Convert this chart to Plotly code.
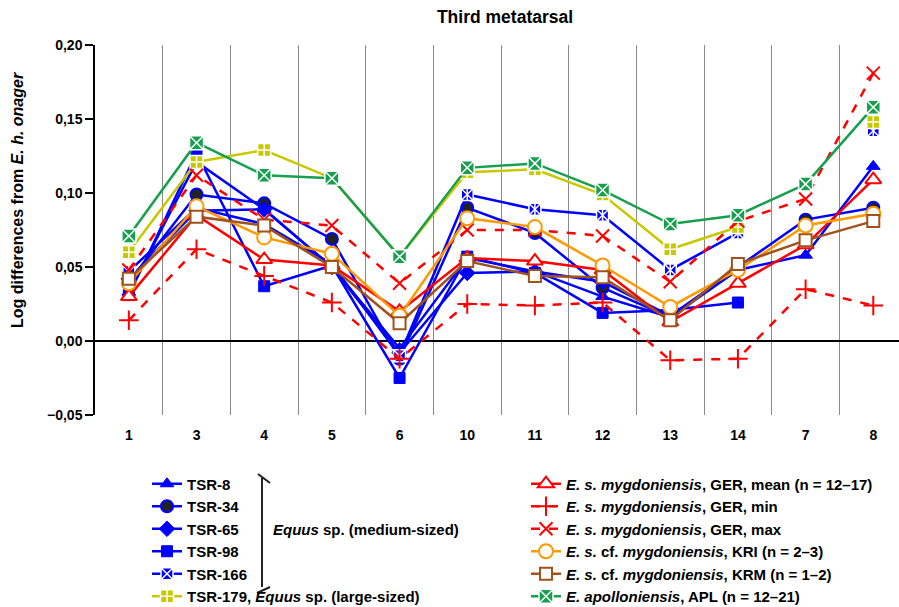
import plotly.graph_objects as go

categories = ['1', '3', '4', '5', '6', '10', '11', '12', '13', '14', '7', '8']

tsr8   = [0.033, 0.121, 0.089, 0.050, -0.005, 0.056, 0.047, 0.030, 0.016, 0.048, 0.058, 0.118]
tsr34  = [0.040, 0.099, 0.093, 0.069, -0.012, 0.090, 0.073, 0.036, 0.016, 0.050, 0.082, 0.090]
tsr65  = [0.042, 0.088, 0.089, 0.050, -0.008, 0.046, 0.047, 0.040, 0.017, 0.049, None, None]
tsr98  = [0.031, 0.127, 0.037, 0.051, -0.025, 0.057, 0.046, 0.019, 0.021, 0.026, None, None]
tsr166 = [0.047, 0.090, 0.079, 0.052, -0.010, 0.099, 0.089, 0.085, 0.048, 0.073, None, 0.142]
tsr179 = [0.060, 0.121, 0.129, 0.110, 0.057, 0.114, 0.116, 0.099, 0.062, 0.077, None, 0.148]
ger_mean = [0.030, 0.085, 0.055, 0.051, 0.020, 0.056, 0.054, 0.048, 0.013, 0.039, 0.065, 0.109]
ger_min  = [0.014, 0.062, 0.044, 0.026, -0.012, 0.025, 0.024, 0.026, -0.013, -0.012, 0.035, 0.024]
ger_max  = [0.048, 0.112, 0.082, 0.078, 0.039, 0.075, 0.075, 0.071, 0.040, 0.081, 0.096, 0.181]
kri = [0.039, 0.091, 0.070, 0.059, 0.017, 0.083, 0.077, 0.051, 0.023, 0.048, 0.078, 0.086]
krm = [0.042, 0.084, 0.078, 0.050, 0.012, 0.054, 0.044, 0.043, 0.014, 0.052, 0.068, 0.081]
apl = [0.071, 0.134, 0.112, 0.110, 0.057, 0.117, 0.120, 0.102, 0.079, 0.085, 0.106, 0.158]

BLUE = '#0000ff'
RED = '#ff0000'
YEL = '#c8c800'
ORA = '#ff9900'
BRN = '#a0521e'
GRN = '#16a04e'
FONT = 'Liberation Sans, Arial, sans-serif'

W, H = 899, 607
L, R, T, B = 95, 0, 45, 192
PW = W - L - R
PH = H - T - B


def px(x):
    return (x - L) / PW


def py(y):
    return (H - B - y) / PH


fig = go.Figure()


def add(name, y, sym, color, fill, lcol, lw=1.5, size=12, dash='solid', legend='legend', width=2.5):
    fig.add_trace(go.Scatter(
        x=categories, y=y, name=name, mode='lines+markers',
        line=dict(color=color, width=width, dash=dash),
        marker=dict(symbol=sym, size=size, color=fill, line=dict(color=lcol, width=lw)),
        legend=legend, connectgaps=False,
    ))


add('TSR-8', tsr8, 'triangle-up', BLUE, BLUE, BLUE, lw=1, size=12)
add('TSR-34', tsr34, 'circle', BLUE, '#222222', BLUE, lw=2, size=12)
add('TSR-65', tsr65, 'diamond', BLUE, BLUE, BLUE, lw=1, size=12)
add('TSR-98', tsr98, 'square', BLUE, BLUE, BLUE, lw=1, size=11)
add('TSR-166', tsr166, 'square-x', BLUE, BLUE, 'white', lw=1.5, size=12)
fig.add_trace(go.Scatter(x=categories, y=tsr166, mode='markers', showlegend=False, hoverinfo='skip',
                         marker=dict(symbol='line-ns-open', size=9, color='white',
                                     line=dict(color='white', width=1.5))))
add('TSR-179, <i>Equus</i> sp. (large-sized)', tsr179, 'square-cross', YEL, YEL, 'white', lw=1.5, size=13)
add('<i>E. s. mygdoniensis</i>, GER, mean (n = 12–17)', ger_mean, 'triangle-up', RED, 'white', RED,
    lw=2, size=14, legend='legend2')
add('<i>E. s. mygdoniensis</i>, GER, min', ger_min, 'cross-thin-open', RED, RED, RED, lw=2, size=14,
    dash='dash', legend='legend2')
add('<i>E. s. mygdoniensis</i>, GER, max', ger_max, 'x-thin-open', RED, RED, RED, lw=2, size=13,
    dash='dash', legend='legend2')
add('<i>E. s.</i> cf. <i>mygdoniensis</i>, KRI (n = 2–3)', kri, 'circle', ORA, 'white', ORA,
    lw=2, size=14, legend='legend2')
add('<i>E. s.</i> cf. <i>mygdoniensis</i>, KRM (n = 1–2)', krm, 'square', BRN, 'white', BRN,
    lw=2, size=12, legend='legend2')
add('<i>E. apolloniensis</i>, APL (n = 12–21)', apl, 'square-x', GRN, GRN, 'white',
    lw=1.5, size=14, legend='legend2')

legfont = dict(family=FONT, size=15, color='black', weight='bold')

fig.update_layout(
    width=W, height=H,
    margin=dict(l=L, r=R, t=T, b=B, autoexpand=False),
    paper_bgcolor='white', plot_bgcolor='white',
    separators=', ',
    font=dict(family=FONT, color='black'),
    title=dict(text='Third metatarsal', x=505 / W, xanchor='center', y=1 - 17 / H, yanchor='middle',
               font=dict(family=FONT, size=17.5, color='black', weight='bold')),
    xaxis=dict(type='category', range=[-0.5, 11.38], tickson='boundaries', showgrid=True,
               gridcolor='#8a8a8a', gridwidth=1, ticks='', showline=False, zeroline=False,
               tickangle=0, ticklabelstandoff=10,
               tickfont=dict(family=FONT, size=14, color='black', weight='bold')),
    yaxis=dict(range=[-0.05, 0.2], dtick=0.05, tick0=0, tickformat='.2f', showgrid=False,
               showline=True, linecolor='black', linewidth=1.5, ticks='outside', ticklen=8,
               tickcolor='black', tickwidth=1.5,
               zeroline=True, zerolinecolor='black', zerolinewidth=1.5,
               tickfont=dict(family=FONT, size=14, color='black', weight='bold')),
    legend=dict(x=147 / W, xref='container', y=1 - 467.5 / H, yref='container', xanchor='left', yanchor='top',
                font=legfont, bgcolor='rgba(0,0,0,0)', tracegroupgap=0, itemwidth=30),
    legend2=dict(x=526 / W, xref='container', y=1 - 467.5 / H, yref='container', xanchor='left', yanchor='top',
                 font=legfont, bgcolor='rgba(0,0,0,0)', tracegroupgap=0, itemwidth=30),
    showlegend=True,
)

# y-axis title
fig.add_annotation(xref='paper', yref='paper', x=px(17), y=py(200), xanchor='center', yanchor='middle',
                   textangle=-90, showarrow=False,
                   text='Log differences from <i>E. h. onager</i>',
                   font=dict(family=FONT, size=16, color='black', weight='bold'))

# bracket for Equus sp. (medium-sized)
bl = dict(color='#222222', width=2)
fig.add_shape(type='line', xref='paper', yref='paper', x0=px(262), x1=px(262), y0=py(478), y1=py(587), line=bl)
fig.add_shape(type='line', xref='paper', yref='paper', x0=px(258), x1=px(270), y0=py(474), y1=py(483), line=bl)
fig.add_shape(type='line', xref='paper', yref='paper', x0=px(257), x1=px(270), y0=py(593), y1=py(587), line=bl)
fig.add_annotation(xref='paper', yref='paper', x=px(271), y=py(529), xanchor='left', yanchor='middle',
                   text='<i>Equus</i> sp. (medium-sized)', showarrow=False,
                   font=dict(family=FONT, size=15, color='black', weight='bold'))

fig.write_html('out.html', config={'displayModeBar': False},
               post_script="document.body.style.margin='0';")
